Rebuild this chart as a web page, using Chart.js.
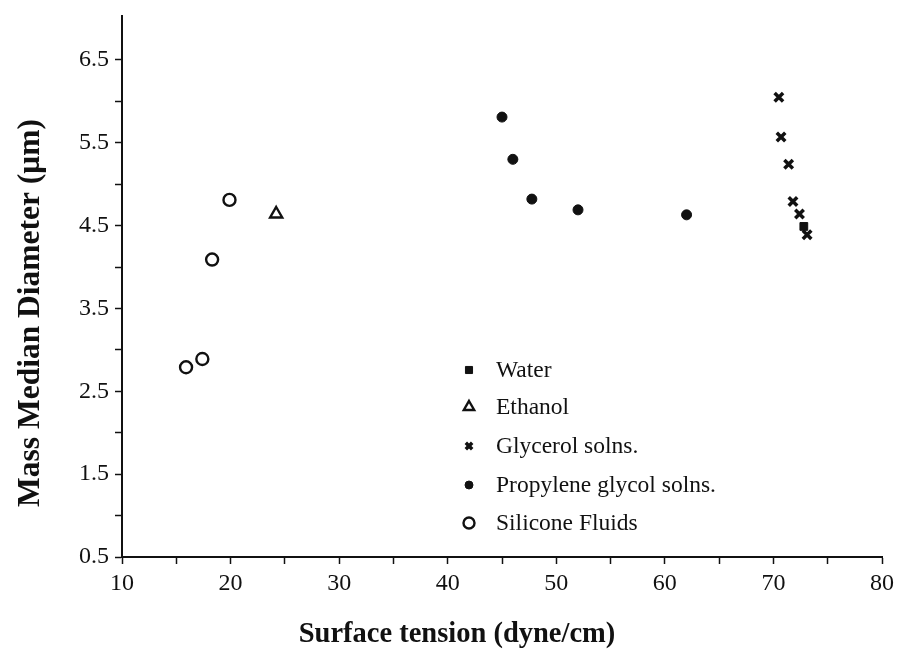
<!DOCTYPE html>
<html>
<head>
<meta charset="utf-8">
<script src="https://cdn.jsdelivr.net/npm/chart.js@4/dist/chart.umd.min.js"></script>
<style>
  html, body { margin: 0; padding: 0; background: #fff; }
  #wrap { width: 897px; height: 650px; position: relative; }
</style>
</head>
<body>
<div id="wrap"><canvas id="chart"></canvas></div>
<script>
// Values
const waterX = [72.8];
const waterY = [4.49];
const ethanolX = [24.2];
const ethanolY = [4.64];
const glycerolX = [70.5, 70.7, 71.4, 71.8, 72.4, 73.1];
const glycerolY = [6.05, 5.57, 5.24, 4.79, 4.64, 4.39];
const propyleneX = [45.0, 46.0, 47.75, 52.0, 62.0];
const propyleneY = [5.81, 5.30, 4.82, 4.69, 4.63];
const siliconeX = [15.9, 17.4, 18.3, 19.9];
const siliconeY = [2.79, 2.89, 4.09, 4.81];

const xTitle = 'Surface tension (dyne/cm)';
const yTitle = 'Mass Median Diameter (\u03bcm)';

const ink = '#111';
const serif = "'Liberation Serif', 'Times New Roman', serif";

const toPoints = (xs, ys) => xs.map((x, i) => ({ x: x, y: ys[i] }));

const series = [
    { label: 'Water', data: toPoints(waterX, waterY), pointStyle: 'rect', radius: 5.5, fill: true, lw: 1, legendR: 5 },
    { label: 'Ethanol', data: toPoints(ethanolX, ethanolY), pointStyle: 'triangle', radius: 7, fill: false, lw: 2.4, legendR: 6 },
    { label: 'Glycerol solns.', data: toPoints(glycerolX, glycerolY), pointStyle: 'crossRot', radius: 6, fill: true, lw: 3.5, legendR: 4.5 },
    { label: 'Propylene glycol solns.', data: toPoints(propyleneX, propyleneY), pointStyle: 'circle', radius: 5, fill: true, lw: 1, legendR: 4 },
    { label: 'Silicone Fluids', data: toPoints(siliconeX, siliconeY), pointStyle: 'circle', radius: 6, fill: false, lw: 2.4, legendR: 5.5 }
];

// legend drawn inside the plot area, plus the two axis titles
const innerLegend = {
    id: 'innerLegend',
    afterDraw(chart) {
        const c = chart.ctx;
        const markX = 469, textX = 496;
        const rows = [370, 407, 446, 485, 523];
        c.save();
        c.font = '23.5px ' + serif;
        c.textBaseline = 'middle';
        series.forEach((s, i) => {
            c.strokeStyle = ink;
            c.fillStyle = s.fill ? ink : 'rgba(0,0,0,0)';
            c.lineWidth = s.lw;
            Chart.helpers.drawPoint(c, { pointStyle: s.pointStyle, radius: s.legendR, rotation: 0, borderWidth: s.lw }, markX, rows[i]);
            c.fillStyle = ink;
            c.fillText(s.label, textX, rows[i] + 1);
        });

        c.font = 'bold 28.5px ' + serif;
        c.textAlign = 'center';
        c.textBaseline = 'alphabetic';
        c.fillText(xTitle, 457, 642);
        c.translate(39, 313);
        c.rotate(-Math.PI / 2);
        c.font = 'bold 31.5px ' + serif;
        c.fillText(yTitle, 0, 0);
        c.restore();
    }
};

new Chart(document.getElementById('chart'), {
    type: 'scatter',
    data: {
        datasets: series.map(s => ({
            label: s.label,
            data: s.data,
            pointStyle: s.pointStyle,
            pointRadius: s.radius,
            pointHoverRadius: s.radius,
            pointBorderWidth: s.lw,
            pointBorderColor: ink,
            pointBackgroundColor: s.fill ? ink : 'rgba(0,0,0,0)'
        }))
    },
    options: {
        responsive: true,
        maintainAspectRatio: false,
        animation: false,
        layout: { padding: { left: 0, right: 15, top: 16, bottom: 0 } },
        plugins: {
            legend: { display: false },
            tooltip: { enabled: false }
        },
        scales: {
            x: {
                type: 'linear',
                min: 10,
                max: 80,
                afterFit: scale => { scale.height = 93; scale.paddingLeft = 0; scale.paddingRight = 0; },
                border: { color: ink, width: 2 },
                grid: { drawOnChartArea: false, drawTicks: true, tickLength: 7, tickColor: ink, tickWidth: 1.5 },
                ticks: {
                    stepSize: 5,
                    autoSkip: false,
                    maxRotation: 0,
                    padding: 5,
                    color: ink,
                    font: { family: serif, size: 24 },
                    callback: v => (v % 10 === 0 ? String(v) : '')
                }
            },
            y: {
                type: 'linear',
                min: 0.5,
                max: 7.03,
                afterFit: scale => { scale.width = 122; scale.paddingTop = 0; scale.paddingBottom = 0; },
                border: { color: ink, width: 2 },
                grid: {
                    drawOnChartArea: false, drawTicks: true, tickLength: 7, tickWidth: 1.5,
                    tickColor: ctx => (ctx.tick && ctx.tick.value > 6.9 ? 'rgba(0,0,0,0)' : ink)
                },
                ticks: {
                    stepSize: 0.5,
                    includeBounds: false,
                    autoSkip: false,
                    padding: 6,
                    color: ink,
                    font: { family: serif, size: 24 },
                    callback: v => {
                        const k = Math.round((v - 0.5) * 2);
                        return (k % 2 === 0 && v < 6.9) ? v.toFixed(1) : '';
                    }
                }
            }
        }
    },
    plugins: [innerLegend]
});
</script>
</body>
</html>
